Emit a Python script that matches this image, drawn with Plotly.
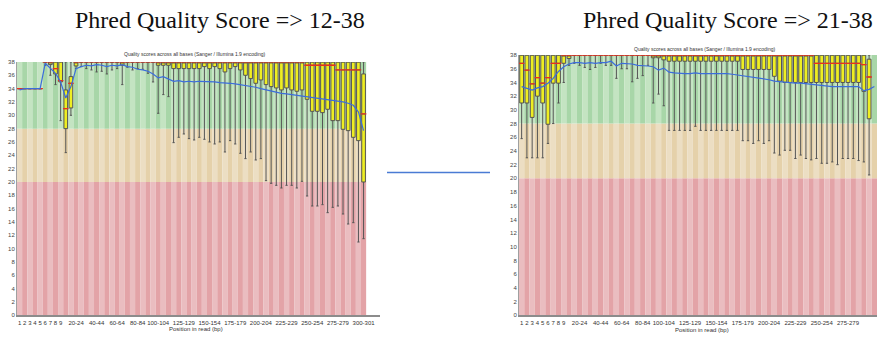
import plotly.graph_objects as go

W, H = 885, 339

# ---------------- categories / tick labels ----------------
categories = [str(i) for i in range(1, 10)] + [f"{s}-{s+4}" for s in range(10, 300, 5)] + ["300-301"]
left_tick_labels = ["1", "2", "3", "4", "5", "6", "7", "8", "9", "20-24", "40-44", "60-64", "80-84",
                    "100-104", "125-129", "150-154", "175-179", "200-204", "225-229", "250-254",
                    "275-279", "300-301"]
right_tick_labels = left_tick_labels[:-1]
y_ticks = list(range(0, 39, 2))

# ---------------- left panel (Phred 12-38) ----------------
left_lower = [34, 34, 34, 34, 34, 37.5, 36.0, 34.6, 29.2, 24.4, 30.0, 37.0,
              37.3, 37.0, 36.8, 36.5, 36.6, 36.2, 36.8, 37.0, 34.6, 37.2, 36.8, 37.0, 36.9, 36.3, 35.0,
              30.3, 33.1, 32.8, 25.9, 26.7, 27.2, 26.5, 26.3, 26.7,
              26.4, 26.0, 25.7, 26.0, 24.5, 26.2, 25.7, 24.3, 23.5, 24.5, 23.3, 23.5,
              20.2, 19.8, 19.5, 19.1, 19.5, 19.5, 19.1, 20.1, 17.9, 16.4, 16.4, 16.6, 15.4, 16.2,
              16.4, 15.2, 13.7, 13.9, 11.0, 11.5]
left_q1 = [34, 34, 34, 34, 34, 38, 37.6, 36.2, 35.0, 28.0, 31.1, 37.4,
           38, 38, 38, 38, 38, 38, 38, 38, 37.5, 38, 38, 38, 38, 38, 38,
           37.5, 37.5, 37.5, 37.0, 37.0, 37.0, 37.0, 37.0, 37.0,
           37.3, 37.0, 37.3, 37.0, 36.5, 37.0, 37.3, 36.8, 36.0, 35.5, 34.8, 35.3,
           34.6, 34.3, 34.1, 33.8, 34.1, 33.8, 33.6, 33.8, 32.4, 30.6, 30.6, 30.4, 30.9, 29.2,
           29.2, 27.9, 27.7, 26.7, 26.2, 20.0]
left_median = [34, 34, 34, 34, 34, 38, 38, 37.0, 35.2, 31.0, 34.8] + [38] * 45 + [37.5] * 6 + [36.8] * 5 + [30.2]
left_q3 = [34] * 5 + [38] * 4 + [33.8, 35.8] + [38] * 56 + [36.2]
left_upper = [34] * 5 + [38] * 63
left_mean = [33.8, 34.0, 34.0, 34.0, 34.0, 37.8, 37.0, 36.3, 35.0, 32.6, 34.3, 37.0,
             37.3, 37.5, 37.4, 37.6, 37.5, 37.3, 37.5, 37.4, 37.6, 37.3, 37.2, 36.9, 36.8, 36.6, 36.2,
             35.6, 35.8, 35.4, 35.1, 35.2, 35.0, 35.1, 35.0, 35.1,
             35.1, 35.0, 35.0, 34.9, 34.9, 34.8, 34.7, 34.6, 34.4, 34.3, 34.2, 34.0, 33.8, 33.6,
             33.4, 33.3, 33.2, 33.1, 33.0, 32.9, 32.8, 32.7, 32.6, 32.5, 32.4, 32.3, 32.2, 32.0,
             31.8, 31.5, 30.5, 27.7]

# ---------------- right panel (Phred 21-38) ----------------
right_lower = [25.8, 23.0, 23.0, 23.0, 23.0, 25.1, 28.0, 31.0, 34.0, 36.5,
               36.8, 36.5, 36.2, 35.9, 36.2, 36.8, 36.5, 36.5, 34.6, 36.0, 36.0, 34.1, 34.6, 35.0, 36.5,
               31.0, 32.3, 30.6,
               27.0, 27.0, 27.0, 27.0, 27.0, 27.6, 27.0, 27.0, 27.0, 27.0, 27.0, 27.0, 27.0, 27.0,
               25.5, 25.5, 25.1, 25.5, 25.1, 25.5,
               23.7, 23.4,
               24.1, 24.1, 22.9, 23.4, 22.9, 22.7, 22.9, 22.2, 22.2, 22.4, 22.0, 22.9, 22.9, 22.9, 22.6,
               22.4, 20.5]
right_q1 = [31.0, 31.0, 28.9, 32.0, 31.0, 27.9, 33.9, 33.9, 36.8, 37.5] + [38] * 15 + \
           [37.6, 37.6, 37.3] + [37.1] * 14 + [35.9] * 6 + [34.9, 34.2] + [34.0] * 15 + [32.7, 28.7]
right_median = [36.8, 35.8, 33.8, 34.7, 33.9, 34.7, 36.8, 36.8] + [38] * 48 + [36.8] * 9 + [36.6, 34.8]
right_q3 = [38] * 66 + [37.4]
right_upper = [38] * 67
right_mean = [33.4, 33.1, 32.9, 33.2, 33.4, 33.9, 34.6, 35.6, 36.3, 36.7,
              36.9, 36.9, 36.8, 36.9, 36.8, 36.9, 36.9, 37.1, 36.4, 36.8,
              36.8, 36.7, 36.5, 36.5, 36.4, 36.3, 35.8, 36.1, 35.5, 35.4,
              35.3, 35.3, 35.3, 35.4, 35.3, 35.3, 35.4, 35.3, 35.3, 35.3,
              35.2, 35.1, 34.9, 34.8, 34.8, 34.7, 34.6, 34.4, 34.2, 34.1,
              34.0, 33.9, 33.9, 33.9, 33.8, 33.8, 33.6, 33.5, 33.4, 33.4,
              33.4, 33.4, 33.3, 33.4, 33.4, 32.8, 33.0, 33.4]

# quality zones: (low, high, dark stripe, light stripe)
zones = [(0, 20, "#e3a3a7", "#eabdc0"),
         (20, 28, "#e5d1aa", "#ecdec3"),
         (28, 38, "#a8d6a8", "#c4e4c2")]

BOX_FILL = "#eeee22"
BOX_LINE = "#555555"
MEDIAN_COLOR = "#e8321e"
MEAN_COLOR = "#3b6ddc"
SANS = "Liberation Sans, Arial, sans-serif"
SERIF = "Liberation Serif, Times New Roman, serif"

fig = go.Figure()


def px_x(p):
    return p / W


def px_y(p):
    return 1 - p / H


def add_panel(xa, ya, cats, lo, q1, med, q3, hi, mean):
    n = len(cats)
    xs = list(range(n))
    for z_lo, z_hi, dark, light in zones:
        fig.add_trace(go.Bar(
            x=xs, y=[z_hi - z_lo] * n, base=[z_lo] * n, width=1,
            marker=dict(color=[light if i % 2 == 0 else dark for i in xs], line=dict(width=0)),
            xaxis=xa, yaxis=ya, hoverinfo="skip", showlegend=False))
    bx = list(range(len(q1)))
    fig.add_trace(go.Box(
        x=bx, q1=q1, median=med, q3=q3, lowerfence=lo, upperfence=hi,
        width=0.72, whiskerwidth=0.6, fillcolor=BOX_FILL,
        line=dict(color=BOX_LINE, width=1), boxpoints=False,
        xaxis=xa, yaxis=ya, hoverinfo="skip", showlegend=False))
    fig.add_trace(go.Scatter(
        x=bx, y=med, mode="markers",
        marker=dict(symbol="line-ew", size=4, line=dict(color=MEDIAN_COLOR, width=1.3)),
        xaxis=xa, yaxis=ya, hoverinfo="skip", showlegend=False))
    fig.add_trace(go.Scatter(
        x=xs, y=mean, mode="lines", line=dict(color=MEAN_COLOR, width=1.2),
        xaxis=xa, yaxis=ya, hoverinfo="skip", showlegend=False))


add_panel("x", "y", categories, left_lower, left_q1, left_median, left_q3, left_upper, left_mean)
add_panel("x2", "y2", categories, right_lower, right_q1, right_median, right_q3, right_upper, right_mean)

common_x = dict(showgrid=False, zeroline=False, showline=True, linecolor="#8c8c8c", linewidth=2,
                ticks="", tickangle=0, tickfont=dict(size=6, color="#333", family=SANS), fixedrange=True)
common_y = dict(showgrid=False, zeroline=False, showline=True, linecolor="#a0a0a0", linewidth=1,
                ticks="", range=[0, 38], tickvals=y_ticks, ticktext=[str(v) for v in y_ticks],
                tickfont=dict(size=6, color="#444", family=SANS), fixedrange=True)

fig.update_layout(
    width=W, height=H, margin=dict(l=0, r=0, t=0, b=0),
    paper_bgcolor="white", plot_bgcolor="white", showlegend=False, barmode="overlay",
    xaxis=dict(domain=[px_x(17), px_x(380)], range=[-0.5, 70.2], anchor="y",
               tickvals=[categories.index(t) for t in left_tick_labels], ticktext=left_tick_labels,
               **common_x),
    yaxis=dict(domain=[px_y(318), px_y(60)], anchor="x", **common_y),
    xaxis2=dict(domain=[px_x(519), px_x(877)], range=[-0.5, 67.5], anchor="y2",
                tickvals=[categories.index(t) for t in right_tick_labels], ticktext=right_tick_labels,
                **common_x),
    yaxis2=dict(domain=[px_y(318), px_y(53)], anchor="x2", **common_y),
)

small_title = "Quality scores across all bases (Sanger / Illumina 1.9 encoding)"
annotations = [
    dict(text="Phred Quality Score => 12-38", x=px_x(220), y=px_y(17.5), font=dict(size=24, family=SERIF, color="#111")),
    dict(text="Phred Quality Score => 21-38", x=px_x(728), y=px_y(17.5), font=dict(size=24, family=SERIF, color="#111")),
    dict(text=small_title, x=px_x(195), y=px_y(52), font=dict(size=5, family=SANS, color="#333")),
    dict(text=small_title, x=px_x(705), y=px_y(47), font=dict(size=5, family=SANS, color="#333")),
    dict(text="Position in read (bp)", x=px_x(196), y=px_y(332), font=dict(size=6, family=SANS, color="#333")),
    dict(text="Position in read (bp)", x=px_x(702), y=px_y(333), font=dict(size=6, family=SANS, color="#333")),
]
for a in annotations:
    a.update(xref="paper", yref="paper", xanchor="center", yanchor="middle", showarrow=False)
fig.update_layout(annotations=annotations)

fig.add_shape(type="line", xref="paper", yref="paper", x0=px_x(387), x1=px_x(490),
              y0=px_y(172.5), y1=px_y(172.5), line=dict(color="#4a7bd4", width=1.5))

fig.write_html("out.html", config={"displayModeBar": False, "staticPlot": True},
               post_script="document.body.style.margin='0';document.body.style.overflow='hidden';")
